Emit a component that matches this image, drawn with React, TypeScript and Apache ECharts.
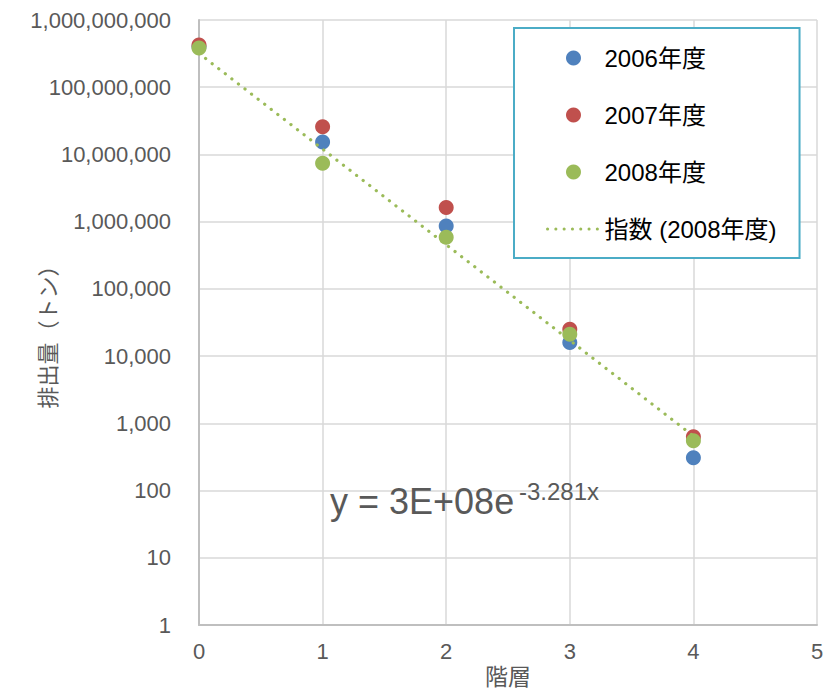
import React, { useEffect, useRef } from "react";
import * as echarts from "echarts";

const levels = [0, 1, 2, 3, 4];
const s2006 = [4.0e8, 1.53e7, 8.6e5, 1.6e4, 307];
const s2007 = [4.25e8, 2.58e7, 1.63e6, 2.52e4, 631];
const s2008 = [3.83e8, 7.37e6, 5.84e5, 2.12e4, 550];
const seriesNames = ["2006年度", "2007年度", "2008年度"];
const trendName = "指数 (2008年度)";
const equationMain = "y = 3E+08e";
const equationSup = "-3.281x";
const xName = "階層";
const yName = "排出量（トン）";

const FONT = "'Liberation Sans', Arial, 'Noto Sans CJK JP', sans-serif";

function expFit(xs: number[], ys: number[]) {
  const n = xs.length;
  const ly = ys.map((v) => Math.log(v));
  const mx = xs.reduce((a, b) => a + b, 0) / n;
  const my = ly.reduce((a, b) => a + b, 0) / n;
  let sxy = 0;
  let sxx = 0;
  for (let i = 0; i < n; i++) {
    sxy += (xs[i] - mx) * (ly[i] - my);
    sxx += (xs[i] - mx) * (xs[i] - mx);
  }
  const b = sxy / sxx;
  const a = Math.exp(my - b * mx);
  return { a, b };
}

export default function App() {
  const ref = useRef<HTMLDivElement>(null);
  useEffect(() => {
    if (!ref.current) return;
    const chart = echarts.init(ref.current, undefined, { renderer: "svg" });
    const fit = expFit(levels, s2008);
    const x0 = levels[0];
    const x1 = levels[levels.length - 1];
    const trend = [
      [x0, fit.a * Math.exp(fit.b * x0)],
      [x1, fit.a * Math.exp(fit.b * x1)],
    ];
    const colors = ["#4f81bd", "#c0504d", "#9bbb59"];
    const data = [s2006, s2007, s2008];
    chart.setOption({
      animation: false,
      textStyle: { fontFamily: FONT },
      grid: {
        left: 199,
        right: 17,
        top: 20,
        bottom: 67,
        containLabel: false,
        outerBoundsMode: "none",
      },
      xAxis: {
        type: "value",
        min: 0,
        max: 5,
        interval: 1,
        name: xName,
        nameLocation: "middle",
        nameGap: 40,
        nameMoveOverlap: false,
        nameTextStyle: { color: "#595959", fontSize: 23, fontFamily: FONT },
        axisLine: { show: true, lineStyle: { color: "#bfbfbf", width: 2 } },
        axisTick: { show: false },
        axisLabel: { color: "#595959", fontSize: 22, margin: 15, fontFamily: FONT },
        splitLine: { show: true, lineStyle: { color: "#d9d9d9", width: 1.5 } },
      },
      yAxis: {
        type: "log",
        logBase: 10,
        min: 1,
        max: 1e9,
        name: yName,
        nameLocation: "middle",
        nameGap: 140,
        nameMoveOverlap: false,
        nameTextStyle: {
          color: "#595959",
          fontSize: 22,
          fontFamily: FONT,
          padding: [0, 18, 0, 0],
        },
        axisLine: { show: true, lineStyle: { color: "#bfbfbf", width: 2 } },
        axisTick: { show: false },
        axisLabel: {
          color: "#595959",
          fontSize: 22,
          margin: 28,
          fontFamily: FONT,
          formatter: (v: number) => Math.round(v).toLocaleString("en-US"),
        },
        splitLine: { show: true, lineStyle: { color: "#d9d9d9", width: 1.5 } },
      },
      legend: {
        orient: "vertical",
        left: 514,
        top: 28,
        padding: [18, 23, 17, 32],
        itemWidth: 52,
        itemHeight: 15,
        itemGap: 33,
        borderColor: "#4bacc6",
        borderWidth: 2,
        backgroundColor: "#ffffff",
        textStyle: { color: "#000000", fontSize: 24, lineHeight: 24, fontFamily: FONT },
        lineStyle: { width: 3 },
        data: [
          ...seriesNames,
          { name: trendName, itemStyle: { opacity: 0 } },
        ],
      },
      series: [
        ...seriesNames.map((name, i) => ({
          name,
          type: "scatter",
          symbol: "circle",
          symbolSize: 15,
          itemStyle: { color: colors[i], opacity: 1 },
          data: levels.map((x, j) => [x, data[i][j]]),
          z: 2 + i,
        })),
        {
          name: trendName,
          type: "line",
          showSymbol: false,
          symbol: "none",
          data: trend,
          z: 10,
          lineStyle: { color: "#9bbb59", width: 3.2, type: [0.1, 8.2], cap: "round" },
          itemStyle: { color: "#9bbb59" },
        },
      ],
      graphic: [
        {
          type: "text",
          left: 330,
          top: 483,
          style: { text: equationMain, fontSize: 36, fill: "#595959", fontFamily: FONT },
          z: 20,
        },
        {
          type: "text",
          left: 519,
          top: 479,
          style: { text: equationSup, fontSize: 24, fill: "#595959", fontFamily: FONT },
          z: 20,
        },
      ],
    });
    return () => chart.dispose();
  }, []);
  return (
    <div
      ref={ref}
      style={{ position: "absolute", left: 0, top: 0, width: 834, height: 692 }}
    />
  );
}
